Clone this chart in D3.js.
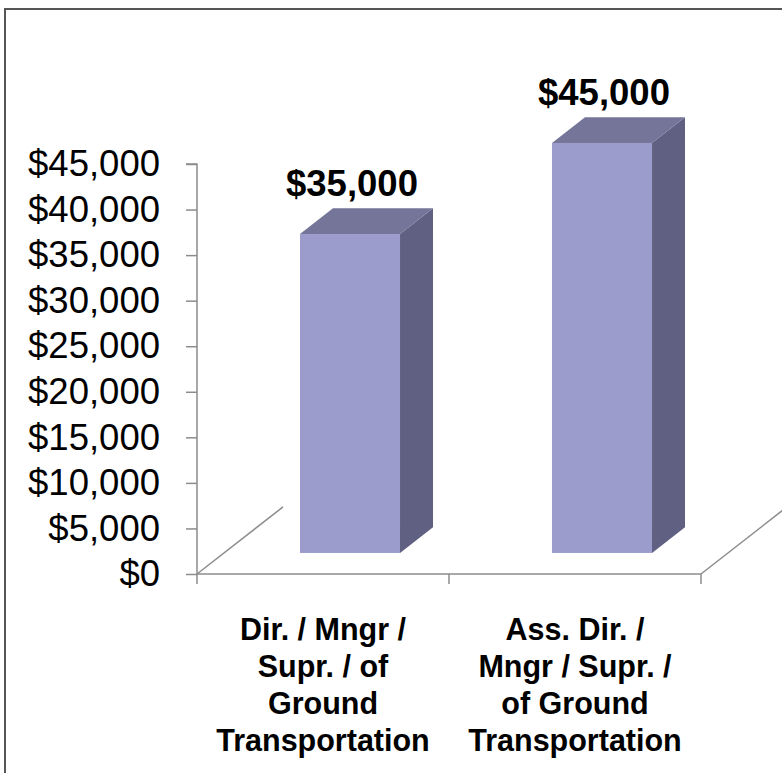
<!DOCTYPE html>
<html>
<head>
<meta charset="utf-8">
<script src="https://cdn.jsdelivr.net/npm/d3@7"></script>
<style>
  html, body { margin: 0; padding: 0; background: #fff; }
  svg { display: block; }
</style>
</head>
<body>
<svg id="chart" width="782" height="773"></svg>
<script>
// ---- data ----
const categories = ["cat1", "cat2"];
const categoryLines = [
  ["Dir. / Mngr /", "Supr. / of", "Ground", "Transportation"],
  ["Ass. Dir. /", "Mngr / Supr. /", "of Ground", "Transportation"]
];
const values = [35000, 45000];
const valueLabels = ["$35,000", "$45,000"];
const yTicks = [0, 5000, 10000, 15000, 20000, 25000, 30000, 35000, 40000, 45000];

// ---- layout ----
const svg = d3.select("#chart");
const W = 782, H = 773;
const axisX = 197, baseY = 574, topY = 164, rightX = 701;
const slope = 0.78;                 // dy/dx of depth direction
const floorDepth = 86;              // horizontal extent of floor depth
const barFront = 27;                // bar front plane offset (x)
const barDepth = 33;                // bar depth (x)

// frame
svg.append("rect")
  .attr("x", 5).attr("y", 9)
  .attr("width", W + 10).attr("height", H + 10)
  .attr("fill", "none").attr("stroke", "#555").attr("stroke-width", 2);

const y = d3.scaleLinear().domain([0, 45000]).range([baseY, topY]);
const x = d3.scaleBand().domain(categories).range([axisX, rightX]);

const axisColor = "#8c8c8c";

// floor lines
const floor = svg.append("g").attr("stroke", axisColor).attr("stroke-width", 1.5).attr("fill", "none");
floor.append("line").attr("x1", axisX).attr("y1", baseY)
  .attr("x2", axisX + floorDepth).attr("y2", baseY - floorDepth * slope);
floor.append("line").attr("x1", rightX).attr("y1", baseY)
  .attr("x2", rightX + floorDepth).attr("y2", baseY - floorDepth * slope);
floor.append("line").attr("x1", axisX).attr("y1", baseY).attr("x2", rightX).attr("y2", baseY);
// category ticks
const catTicks = [axisX, axisX + x.step(), rightX];
catTicks.forEach(t => {
  floor.append("line").attr("x1", t).attr("x2", t).attr("y1", baseY).attr("y2", baseY + 10);
});

// y axis
const yAxis = d3.axisLeft(y).tickValues(yTicks).tickFormat(d3.format("$,")).tickSize(11).tickPadding(26);
const gy = svg.append("g").attr("transform", `translate(${axisX},0)`).call(yAxis);
gy.select(".domain").attr("stroke", axisColor).attr("stroke-width", 1.5)
  .attr("d", `M-11,${topY}H0V${baseY}`);
gy.selectAll(".tick line").attr("stroke", axisColor).attr("stroke-width", 1.5);
gy.selectAll(".tick text")
  .attr("font-family", "Liberation Sans, Arial, sans-serif")
  .attr("font-size", 36.5).attr("fill", "#000");

// bars
const barW = x.bandwidth() * 0.397;
const fdx = barFront, fdy = -barFront * slope;
const ddx = barDepth, ddy = -barDepth * slope;
const bars = svg.append("g");
categories.forEach((c, i) => {
  const cx = x(c) + x.bandwidth() / 2 + fdx;
  const x0 = cx - barW / 2, x1 = cx + barW / 2;
  const yb = y(0) + fdy, yt = y(values[i]) + fdy;
  // side
  bars.append("path")
    .attr("d", `M${x1},${yt}L${x1 + ddx},${yt + ddy}L${x1 + ddx},${yb + ddy}L${x1},${yb}Z`)
    .attr("fill", "#606082");
  // top
  bars.append("path")
    .attr("d", `M${x0},${yt}L${x1},${yt}L${x1 + ddx},${yt + ddy}L${x0 + ddx},${yt + ddy}Z`)
    .attr("fill", "#757599");
  // front
  bars.append("rect")
    .attr("x", x0).attr("y", yt).attr("width", barW).attr("height", yb - yt)
    .attr("fill", "#9b9bcc");
  // value label
  svg.append("text")
    .attr("x", cx + 2).attr("y", yt + ddy - 12)
    .attr("text-anchor", "middle")
    .attr("font-family", "Liberation Sans, Arial, sans-serif")
    .attr("font-weight", "bold").attr("font-size", 36.5)
    .text(valueLabels[i]);
});

// category labels
categories.forEach((c, i) => {
  const t = svg.append("text")
    .attr("text-anchor", "middle")
    .attr("font-family", "Liberation Sans, Arial, sans-serif")
    .attr("font-weight", "bold").attr("font-size", 30.5);
  categoryLines[i].forEach((ln, j) => {
    t.append("tspan").attr("x", x(c) + x.bandwidth() / 2).attr("y", 640 + j * 37).text(ln);
  });
});
</script>
</body>
</html>
